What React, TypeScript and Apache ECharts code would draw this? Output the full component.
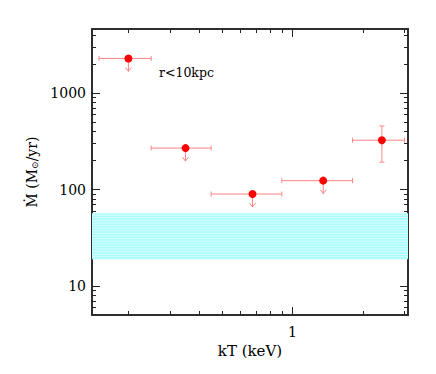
import React, { useEffect, useRef } from 'react';
import * as echarts from 'echarts';

// Data
const kT = [0.2, 0.35, 0.675, 1.35, 2.4];
const kTLow = [0.15, 0.25, 0.45, 0.9, 1.8];
const kTHigh = [0.25, 0.45, 0.9, 1.8, 3.0];
const mdot = [2300, 270, 90, 124, 326];
const mdotLow = [2300, 270, 90, 124, 193];
const mdotHigh = [2300, 270, 90, 124, 458];
const upperLimit = [1, 1, 1, 1, 0];
const bandRange = [19, 57];

const xRange = [0.14, 3.1];
const yRange = [5, 4650];
const xMajorTicks = [1];
const xMinorTicks = [0.2, 0.3, 0.4, 0.5, 0.6, 0.7, 0.8, 0.9, 2, 3];
const xLabels = [1];
const yMajorTicks = [10, 100, 1000];
const yMinorTicks = [6, 7, 8, 9, 20, 30, 40, 50, 60, 70, 80, 90, 200, 300, 400, 500, 600, 700, 800, 900, 2000, 3000, 4000];
const yLabels = [10, 100, 1000];

const FONT = '"DejaVu Serif", serif';
const AX = '#222';
const ERR = '#ff8585';

function makeAxis(dim: 'x' | 'y', position: string, ticks: number[], len: number, labels: number[] | null, extra: any = {}) {
  const range = dim === 'x' ? xRange : yRange;
  return {
    type: 'log',
    logBase: 10,
    min: range[0],
    max: range[1],
    position,
    axisLine: { show: true, lineStyle: { color: AX, width: 1.5 } },
    axisTick: { show: true, inside: true, length: len, customValues: ticks, lineStyle: { color: AX, width: 1 } },
    axisLabel: labels
      ? { show: true, customValues: labels, fontFamily: FONT, fontSize: 14, color: '#000', margin: dim === 'x' ? 10 : 6, formatter: (v: number) => String(v) }
      : { show: false },
    splitLine: { show: false },
    minorTick: { show: false },
    ...extra,
  };
}

export default function App() {
  const ref = useRef<HTMLDivElement>(null);
  useEffect(() => {
    if (!ref.current) return;
    const chart = echarts.init(ref.current, null, { renderer: 'svg' });
    const errData = kT.map((x, i) => [x, mdot[i], kTLow[i], kTHigh[i], mdotLow[i], mdotHigh[i], upperLimit[i]]);
    const option: any = {
      animation: false,
      grid: { left: 92, right: 28, top: 29, bottom: 59 },
      xAxis: [
        makeAxis('x', 'bottom', xMajorTicks, 8, xLabels, {
          name: 'kT (keV)', nameLocation: 'middle', nameGap: 27,
          nameTextStyle: { fontFamily: FONT, fontSize: 15, color: '#000' },
        }),
        makeAxis('x', 'bottom', xMinorTicks, 4, null),
        makeAxis('x', 'top', xMajorTicks, 8, null),
        makeAxis('x', 'top', xMinorTicks, 4, null),
      ],
      yAxis: [
        makeAxis('y', 'left', yMajorTicks, 8, yLabels, {
          name: '{m|Ṁ (M}{s|⊙}{m|/yr)}', nameLocation: 'middle', nameGap: 52,
          nameTextStyle: {
            fontFamily: FONT, fontSize: 14, color: '#000',
            rich: {
              m: { fontFamily: FONT, fontSize: 14, color: '#000' },
              s: { fontFamily: FONT, fontSize: 9, color: '#000', padding: [6, 0, 0, 0] },
            },
          },
        }),
        makeAxis('y', 'left', yMinorTicks, 4, null),
        makeAxis('y', 'right', yMajorTicks, 8, null),
        makeAxis('y', 'right', yMinorTicks, 4, null),
      ],
      graphic: [
        { type: 'text', left: 159, top: 66, style: { text: 'r<10kpc', font: '12.5px "DejaVu Serif"', fill: '#000' } },
      ],
      series: [
        {
          type: 'custom',
          xAxisIndex: 0, yAxisIndex: 0,
          z: 1,
          clip: true,
          data: [[xRange[0], bandRange[0], xRange[1], bandRange[1]]],
          encode: { x: [0, 2], y: [1, 3] },
          renderItem: (params: any, api: any) => {
            const tl = api.coord([api.value(0), api.value(3)]);
            const br = api.coord([api.value(2), api.value(1)]);
            const children: any[] = [
              { type: 'rect', shape: { x: tl[0], y: tl[1], width: br[0] - tl[0], height: br[1] - tl[1] }, style: { fill: '#adfcfc' } },
            ];
            for (let y = tl[1] + 2; y < br[1] - 1; y += 2.6) {
              children.push({ type: 'line', shape: { x1: tl[0], y1: y, x2: br[0], y2: y }, style: { stroke: '#e0ffff', lineWidth: 0.8 } });
            }
            return { type: 'group', children };
          },
        },
        {
          type: 'custom',
          xAxisIndex: 0, yAxisIndex: 0,
          z: 3,
          data: errData,
          encode: { x: 0, y: 1 },
          renderItem: (params: any, api: any) => {
            const p = api.coord([api.value(0), api.value(1)]);
            const xl = api.coord([api.value(2), api.value(1)]);
            const xh = api.coord([api.value(3), api.value(1)]);
            const st = { stroke: ERR, lineWidth: 1 };
            const children: any[] = [
              { type: 'line', shape: { x1: xl[0], y1: xl[1], x2: xh[0], y2: xh[1] }, style: st },
              { type: 'line', shape: { x1: xl[0], y1: xl[1] - 2.5, x2: xl[0], y2: xl[1] + 2.5 }, style: st },
              { type: 'line', shape: { x1: xh[0], y1: xh[1] - 2.5, x2: xh[0], y2: xh[1] + 2.5 }, style: st },
            ];
            if (api.value(4) !== api.value(1) || api.value(5) !== api.value(1)) {
              const yl = api.coord([api.value(0), api.value(4)]);
              const yh = api.coord([api.value(0), api.value(5)]);
              children.push(
                { type: 'line', shape: { x1: yl[0], y1: yl[1], x2: yh[0], y2: yh[1] }, style: st },
                { type: 'line', shape: { x1: yl[0] - 2.5, y1: yl[1], x2: yl[0] + 2.5, y2: yl[1] }, style: st },
                { type: 'line', shape: { x1: yh[0] - 2.5, y1: yh[1], x2: yh[0] + 2.5, y2: yh[1] }, style: st },
              );
            }
            if (api.value(6)) {
              children.push(
                { type: 'line', shape: { x1: p[0], y1: p[1], x2: p[0], y2: p[1] + 13 }, style: st },
                { type: 'polyline', shape: { points: [[p[0] - 3, p[1] + 9], [p[0], p[1] + 13], [p[0] + 3, p[1] + 9]] }, style: { ...st, fill: null } },
              );
            }
            return { type: 'group', children };
          },
        },
        {
          type: 'scatter',
          xAxisIndex: 0, yAxisIndex: 0,
          z: 5,
          symbol: 'circle',
          symbolSize: 8,
          itemStyle: { color: '#ff0000', opacity: 1 },
          data: kT.map((x, i) => [x, mdot[i]]),
        },
      ],
    };
    chart.setOption(option);
    return () => chart.dispose();
  }, []);
  return <div ref={ref} style={{ position: 'fixed', left: 0, top: 0, width: 436, height: 374, background: '#fff' }} />;
}
